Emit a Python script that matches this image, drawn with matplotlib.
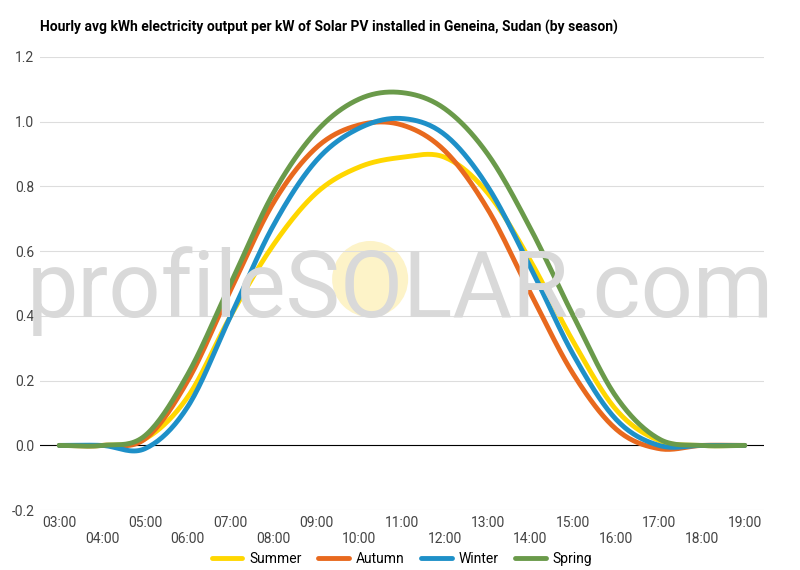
import matplotlib; matplotlib.use("Agg")
import matplotlib.pyplot as plt
import numpy as np
from matplotlib.patches import Ellipse

plt.rcParams['font.family'] = ['Roboto', 'DejaVu Sans']

hours = list(range(3, 20))
hour_labels = [f"{h:02d}:00" for h in hours]
summer = [0, 0, 0.02, 0.15, 0.40, 0.62, 0.78, 0.86, 0.89, 0.89, 0.78, 0.57, 0.32, 0.11, 0.015, 0, 0]
autumn = [0, 0, 0.02, 0.20, 0.48, 0.75, 0.92, 0.99, 0.99, 0.91, 0.73, 0.47, 0.22, 0.05, -0.01, 0, 0]
winter = [0, 0, -0.01, 0.12, 0.40, 0.68, 0.88, 0.98, 1.01, 0.96, 0.80, 0.55, 0.28, 0.08, 0, 0, 0]
spring = [0, 0, 0.03, 0.22, 0.50, 0.78, 0.97, 1.07, 1.09, 1.04, 0.90, 0.67, 0.40, 0.15, 0.02, 0, 0]
series = [("Summer", summer, "#FFD700"), ("Autumn", autumn, "#E8691E"),
          ("Winter", winter, "#1E90C8"), ("Spring", spring, "#6A9A4A")]

def smooth(x, y, n=20):
    # Catmull-Rom through the points
    x = np.asarray(x, float); y = np.asarray(y, float)
    xs, ys = [], []
    for i in range(len(x) - 1):
        p0 = y[max(i - 1, 0)]; p1 = y[i]; p2 = y[i + 1]; p3 = y[min(i + 2, len(y) - 1)]
        t = np.linspace(0, 1, n, endpoint=False)
        ys.append(0.5 * (2 * p1 + (-p0 + p2) * t + (2 * p0 - 5 * p1 + 4 * p2 - p3) * t**2
                         + (-p0 + 3 * p1 - 3 * p2 + p3) * t**3))
        xs.append(x[i] + (x[i + 1] - x[i]) * t)
    xs.append([x[-1]]); ys.append([y[-1]])
    return np.concatenate(xs), np.concatenate(ys)

fig = plt.figure(figsize=(8, 5.7), dpi=100)
ax = fig.add_axes([0.05, 0.105, 0.905, 0.795])

for name, vals, col in series:
    sx, sy = smooth(hours, vals)
    ax.plot(sx, sy, color=col, lw=3.5, label=name, solid_capstyle='round', zorder=3)

ax.axhline(0, color='black', lw=0.8, zorder=2)
ax.set_xlim(2.55, 19.45)
ax.set_ylim(-0.2, 1.2)
ax.set_yticks(np.arange(-0.2, 1.21, 0.2))
ax.set_yticklabels([f"{v:.1f}" for v in np.arange(-0.2, 1.21, 0.2)], fontsize=10, color='#444')
ax.set_xticks(hours)
ax.set_xticklabels([l if i % 2 == 0 else "\n" + l for i, l in enumerate(hour_labels)],
                   fontsize=10, color='#444')
ax.tick_params(length=0, pad=4)
ax.grid(axis='y', color='#dddddd', lw=0.8)
for s in ax.spines.values():
    s.set_visible(False)

# watermark
fig.text(0.5, 0.49, "profileSOLAR.com", ha='center', va='center',
         fontsize=66, color='#d9d9d9', zorder=0)
ax.add_patch(Ellipse((0.456, 0.51), 0.105, 0.168, transform=ax.transAxes, color='#fdf3c8',
                     zorder=1.1, ec='none'))
ax.set_facecolor('none')

fig.text(0.05, 0.952, "Hourly avg kWh electricity output per kW of Solar PV installed in Geneina, Sudan (by season)",
         fontsize=10, fontweight='bold', va='center')
ax.legend(loc='center', bbox_to_anchor=(0.5, -0.107), ncol=4, frameon=False, fontsize=10,
          handlelength=2.2, columnspacing=1.2, handletextpad=0.5)
fig.savefig("out.png", dpi=100, facecolor='white')
